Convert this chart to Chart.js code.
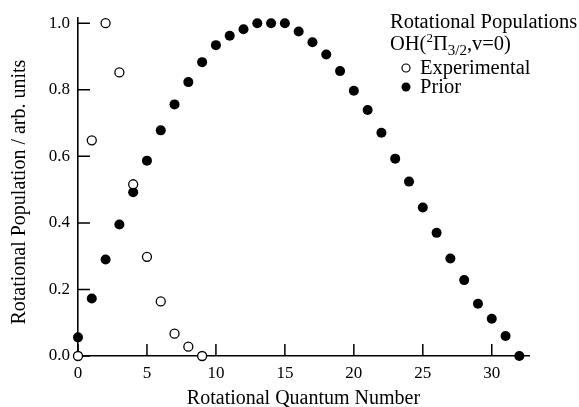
<!DOCTYPE html>
<html>
<head>
<meta charset="utf-8">
<script src="https://cdn.jsdelivr.net/npm/chart.js@4.4.0/dist/chart.umd.min.js"></script>
<style>
html, body { margin: 0; padding: 0; background: #fff; }
#wrap { width: 579px; height: 407px; }
</style>
</head>
<body>
<div id="wrap"><canvas id="c"></canvas></div>
<script>
var experimentalJ = [0, 1, 2, 3, 4, 5, 6, 7, 8, 9];
var experimental = [0.0, 0.648, 1.0, 0.852, 0.516, 0.298, 0.164, 0.067, 0.028, 0.0];

var priorJ = [0, 1, 2, 3, 4, 5, 6, 7, 8, 9, 10, 11, 12, 13, 14, 15, 16,
              17, 18, 19, 20, 21, 22, 23, 24, 25, 26, 27, 28, 29, 30, 31, 32];
var prior = [0.056, 0.173, 0.290, 0.395, 0.492, 0.587, 0.678, 0.756, 0.823, 0.883,
             0.934, 0.962, 0.982, 1.0, 1.0, 1.0, 0.975, 0.943, 0.906, 0.856,
             0.797, 0.739, 0.671, 0.593, 0.524, 0.446, 0.370, 0.293, 0.228, 0.157,
             0.112, 0.060, 0.0];

var xTicks = [0, 5, 10, 15, 20, 25, 30];
var yTicks = [0, 0.2, 0.4, 0.6, 0.8, 1.0];

var serif = '"Liberation Serif", "Times New Roman", serif';

function toPoints(xs, ys) {
    return xs.map(function (x, i) { return { x: x, y: ys[i] }; });
}

// tick marks point into the plot, like the original
var inwardTicks = {
    id: 'inwardTicks',
    beforeDatasetsDraw: function (chart) {
        var ctx = chart.ctx;
        var xs = chart.scales.x, ys = chart.scales.y;
        var area = chart.chartArea;
        ctx.save();
        ctx.strokeStyle = '#000';
        ctx.lineWidth = 1.5;
        ctx.beginPath();
        xTicks.forEach(function (v) {
            var px = xs.getPixelForValue(v);
            ctx.moveTo(px, area.bottom);
            ctx.lineTo(px, area.bottom - 12);
        });
        yTicks.forEach(function (v) {
            var py = ys.getPixelForValue(v);
            ctx.moveTo(area.left, py);
            ctx.lineTo(area.left + 12, py);
        });
        ctx.stroke();
        ctx.restore();
    }
};

var legendBox = {
    id: 'legendBox',
    afterDraw: function (chart) {
        var ctx = chart.ctx;
        ctx.save();
        ctx.fillStyle = '#000';
        ctx.textBaseline = 'alphabetic';
        ctx.textAlign = 'left';

        ctx.font = '20.5px ' + serif;
        ctx.fillText('Rotational Populations', 390, 28);

        var x = 390;
        ctx.fillText('OH(', x, 50); x += ctx.measureText('OH(').width;
        ctx.font = '13px ' + serif;
        ctx.fillText('2', x, 42); x += ctx.measureText('2').width;
        ctx.font = '20.5px ' + serif;
        ctx.fillText('\u03A0', x, 50); x += ctx.measureText('\u03A0').width;
        ctx.font = '15px ' + serif;
        ctx.fillText('3/2', x, 55); x += ctx.measureText('3/2').width;
        ctx.font = '20.5px ' + serif;
        ctx.fillText(',v=0)', x, 50);

        ctx.fillText('Experimental', 420, 74);
        ctx.fillText('Prior', 420, 93);

        ctx.lineWidth = 1.2;
        ctx.strokeStyle = '#000';
        ctx.beginPath();
        ctx.arc(406, 68, 4, 0, Math.PI * 2);
        ctx.stroke();
        ctx.beginPath();
        ctx.arc(406, 87, 4.5, 0, Math.PI * 2);
        ctx.fill();
        ctx.restore();
    }
};

new Chart(document.getElementById('c'), {
    type: 'scatter',
    data: {
        datasets: [{
            label: 'Experimental',
            data: toPoints(experimentalJ, experimental),
            pointRadius: 4.5,
            pointBorderWidth: 1.3,
            pointBorderColor: '#000',
            pointBackgroundColor: '#fff',
            clip: false
        }, {
            label: 'Prior',
            data: toPoints(priorJ, prior),
            pointRadius: 5,
            pointBorderWidth: 0,
            pointBackgroundColor: '#000',
            pointBorderColor: '#000',
            clip: false
        }]
    },
    options: {
        responsive: true,
        maintainAspectRatio: false,
        animation: false,
        layout: { padding: { top: 15, right: 50, left: 0, bottom: 0 } },
        plugins: { legend: { display: false }, tooltip: { enabled: false } },
        scales: {
            x: {
                type: 'linear',
                min: 0,
                max: 32.7,
                afterFit: function (s) { s.height = 51; },
                afterBuildTicks: function (s) {
                    s.ticks = xTicks.map(function (v) { return { value: v }; });
                },
                grid: { display: true, drawOnChartArea: false, drawTicks: false },
                border: { display: true, color: '#000', width: 1.6 },
                ticks: {
                    color: '#000',
                    padding: 7,
                    maxRotation: 0,
                    font: { family: serif, size: 17 }
                },
                title: {
                    display: true,
                    text: 'Rotational Quantum Number',
                    color: '#000',
                    font: { family: serif, size: 20, lineHeight: 1 },
                    padding: { top: 0, bottom: -2 }
                }
            },
            y: {
                type: 'linear',
                min: 0,
                max: 1.015,
                afterFit: function (s) { s.width = 78; },
                afterBuildTicks: function (s) {
                    s.ticks = yTicks.map(function (v) { return { value: v }; });
                },
                grid: { display: true, drawOnChartArea: false, drawTicks: false },
                border: { display: true, color: '#000', width: 1.6 },
                ticks: {
                    color: '#000',
                    padding: 8,
                    font: { family: serif, size: 17 },
                    callback: function (v) { return v.toFixed(1); }
                },
                title: {
                    display: true,
                    text: 'Rotational Population / arb. units  ',
                    color: '#000',
                    font: { family: serif, size: 20, lineHeight: 1 },
                    padding: { top: 10, bottom: 0 }
                }
            }
        }
    },
    plugins: [inwardTicks, legendBox]
});
</script>
</body>
</html>
